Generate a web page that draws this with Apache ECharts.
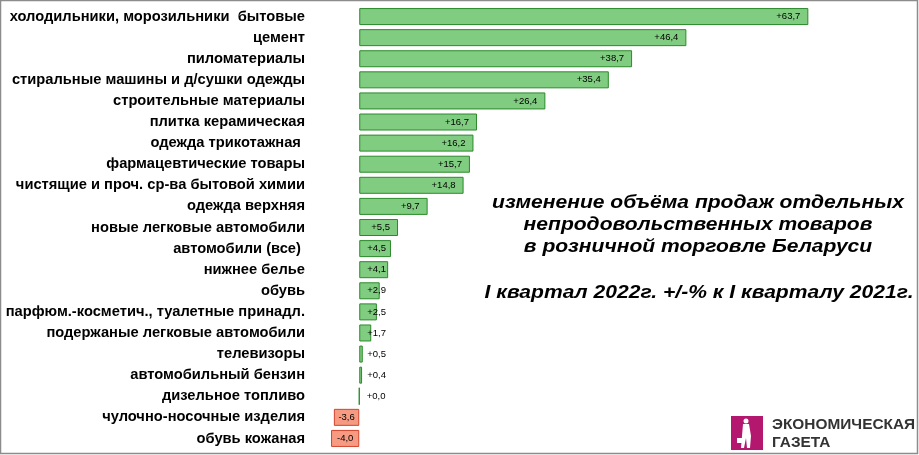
<!DOCTYPE html>
<html><head><meta charset="utf-8">
<script src="https://cdn.jsdelivr.net/npm/echarts@6/dist/echarts.min.js"></script>
<style>html,body{margin:0;padding:0;background:#fff}#c{width:919px;height:455px}</style>
</head><body><div id="c"></div>
<script>
const categories = [
  'холодильники, морозильники  бытовые',
  'цемент',
  'пиломатериалы',
  'стиральные машины и д/сушки одежды',
  'строительные материалы',
  'плитка керамическая',
  'одежда трикотажная ',
  'фармацевтические товары',
  'чистящие и проч. ср-ва бытовой химии',
  'одежда верхняя',
  'новые легковые автомобили',
  'автомобили (все) ',
  'нижнее белье',
  'обувь',
  'парфюм.-косметич., туалетные принадл.',
  'подержаные легковые автомобили',
  'телевизоры',
  'автомобильный бензин',
  'дизельное топливо',
  'чулочно-носочные изделия',
  'обувь кожаная'
];
const values = [63.7, 46.4, 38.7, 35.4, 26.4, 16.7, 16.2, 15.7, 14.8, 9.7, 5.5, 4.5, 4.1, 2.9, 2.5, 1.7, 0.5, 0.4, 0.0, -3.6, -4.0];
const titleLines = ['изменение объёма продаж отдельных', 'непродовольственных товаров', 'в розничной торговле Беларуси'];
const subtitle = 'I квартал 2022г. +/-% к I кварталу 2021г.';
const logoLines = ['ЭКОНОМИЧЕСКАЯ', 'ГАЗЕТА'];

function fmt(v){ const s = Math.abs(v).toFixed(1).replace('.', ','); return (v < 0 ? '-' : '+') + s; }

const data = values.map(v => {
  const neg = v < 0;
  let label;
  if (neg) label = { position: 'inside' };
  else if (v >= 5) label = { position: 'insideRight', distance: 8 };
  else label = { position: [8, '50%'], align: 'left', verticalAlign: 'middle' };
  return {
    value: v,
    itemStyle: neg ? { color: '#f79a82', borderColor: '#d2432c', borderWidth: 1 }
                   : { color: '#80cc80', borderColor: '#2b8a2b', borderWidth: 1 },
    label: label
  };
});

const titleFont = 'italic bold 18px "Liberation Sans", Arial';
const titleY = [203, 225, 247];
const graphics = [
  { type: 'rect', shape: { x: 0.5, y: 0.5, width: 917, height: 453 }, style: { fill: 'none', stroke: '#8c8c8c', lineWidth: 1.5 }, silent: true },
  { type: 'rect', shape: { x: 731, y: 416, width: 32, height: 34 }, style: { fill: '#b3176e' } },
  { type: 'circle', shape: { cx: 746, cy: 421, r: 2.5 }, style: { fill: '#fff' } },
  { type: 'polygon', shape: { points: [[743,424],[749,424],[751,436],[750,448],[747,448],[746,438],[744,448],[741,448],[742,436]] }, style: { fill: '#fff' } },
  { type: 'rect', shape: { x: 737, y: 438, width: 6, height: 5 }, style: { fill: '#fff' } },
  { type: 'text', x: 772, y: 425, scaleX: 1.1, style: { text: logoLines[0], fill: '#333', font: 'bold 14px "Liberation Sans", Arial', textVerticalAlign: 'middle' } },
  { type: 'text', x: 772, y: 443, scaleX: 1.1, style: { text: logoLines[1], fill: '#333', font: 'bold 14px "Liberation Sans", Arial', textVerticalAlign: 'middle' } },
  { type: 'text', x: 699, y: 293, scaleX: 1.17, style: { text: subtitle, fill: '#000', font: titleFont, textAlign: 'center', textVerticalAlign: 'middle' } }
];
titleLines.forEach((t, i) => graphics.push(
  { type: 'text', x: 698, y: titleY[i], scaleX: 1.17, style: { text: t, fill: '#000', font: titleFont, textAlign: 'center', textVerticalAlign: 'middle' } }
));

const chart = echarts.init(document.getElementById('c'));
chart.setOption({
  animation: false,
  backgroundColor: '#fff',
  grid: { left: 324, right: 31, top: 6, bottom: 6 },
  xAxis: { type: 'value', min: -5, max: 75, show: false, splitLine: { show: false } },
  yAxis: {
    type: 'category', data: categories, inverse: true,
    axisLine: { show: false }, axisTick: { show: false },
    axisLabel: { margin: 19, color: '#000', fontFamily: 'Liberation Sans, Arial', fontWeight: 'bold', fontSize: 14.7 }
  },
  series: [{
    type: 'bar', data: data, barWidth: 17,
    label: { show: true, formatter: p => fmt(p.value), color: '#000', fontFamily: 'Liberation Sans, Arial', fontSize: 9.5 }
  }],
  graphic: graphics
});
</script></body></html>
